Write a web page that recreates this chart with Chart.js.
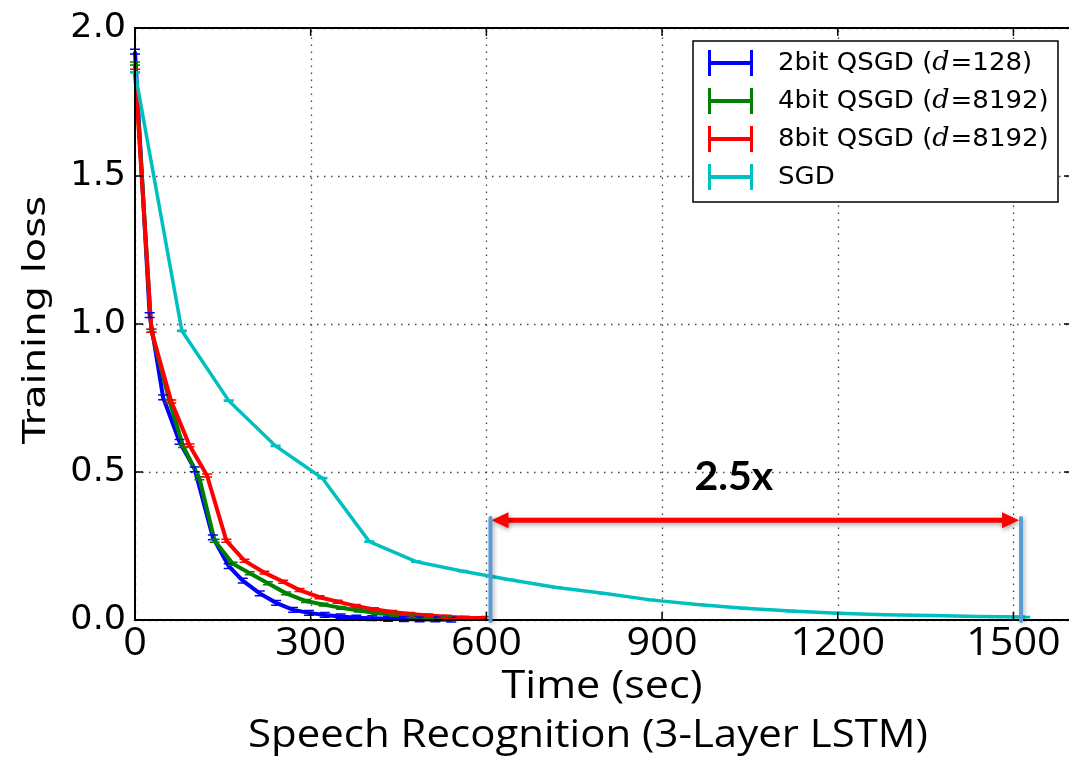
<!DOCTYPE html>
<html><head><meta charset="utf-8">
<script src="https://cdn.jsdelivr.net/npm/chart.js@4.4.0/dist/chart.umd.min.js"></script>
<style>
html,body{margin:0;padding:0;background:#fff;overflow:hidden}
#wrap{width:1069px;height:774px;overflow:hidden;position:relative}
canvas{display:block}
</style></head><body>
<div id="wrap"><canvas id="c" width="1085" height="774"></canvas></div>
<script>
// ---- data ----
const xTicks = [0, 300, 600, 900, 1200, 1500];
const yTicks = [0.0, 0.5, 1.0, 1.5, 2.0];
const seriesNames = ['2bit QSGD', '4bit QSGD', '8bit QSGD', 'SGD'];
const seriesBuckets = ['128', '8192', '8192', null];

const qsgd2Time = [0, 25, 48, 76, 102, 133, 160, 184, 213, 241, 270, 297, 324, 351, 378, 405, 432, 459, 486, 513, 540];
const qsgd2Loss = [1.92, 1.03, 0.752, 0.602, 0.509, 0.279, 0.182, 0.133, 0.090, 0.058, 0.034, 0.024, 0.017, 0.012, 0.008, 0.006, 0.004, 0.003, 0.002, 0.002, 0.001];
const qsgd2Err = 0.008;

const qsgd4Time = [0, 28, 59, 82, 110, 136, 167, 196, 227, 258, 292, 322, 352, 382, 412, 442, 472, 502, 532, 562];
const qsgd4Loss = [1.88, 0.977, 0.738, 0.588, 0.479, 0.268, 0.190, 0.158, 0.124, 0.090, 0.064, 0.052, 0.041, 0.032, 0.024, 0.018, 0.013, 0.009, 0.006, 0.004];
const qsgd4Err = 0.005;

const qsgd8Time = [0, 28, 62, 93, 123, 156, 187, 221, 253, 281, 315, 346, 377, 408, 439, 470, 501, 532, 563, 600];
const qsgd8Loss = [1.856, 0.977, 0.738, 0.590, 0.488, 0.268, 0.200, 0.160, 0.129, 0.101, 0.077, 0.062, 0.047, 0.036, 0.027, 0.020, 0.015, 0.011, 0.008, 0.007];
const qsgd8Err = 0.005;

const sgdTime = [0, 80, 160, 240, 320, 400, 480, 560, 640, 720, 800, 880, 960, 1040, 1120, 1200, 1280, 1360, 1440, 1520];
const sgdLoss = [1.85, 0.977, 0.741, 0.588, 0.479, 0.265, 0.197, 0.165, 0.136, 0.110, 0.090, 0.068, 0.052, 0.040, 0.030, 0.023, 0.018, 0.015, 0.012, 0.010];
const sgdErr = 0.002;

// annotation (data units)
const speedupLabel = '2.5x';
const speedupMarkers = [607, 1513];
const speedupArrowLoss = 0.337;
const speedupMarkerTop = 0.345;

const colors = ['#0000ff', '#008000', '#ff0000', '#00bfbf'];

function pts(t, l) { return t.map((v, i) => ({ x: v, y: l[i] })); }
const allErr = [qsgd2Err, qsgd4Err, qsgd8Err, sgdErr];

const datasets = [
  { label: seriesNames[0], data: pts(qsgd2Time, qsgd2Loss), order: 3 },
  { label: seriesNames[1], data: pts(qsgd4Time, qsgd4Loss), order: 2 },
  { label: seriesNames[2], data: pts(qsgd8Time, qsgd8Loss), order: 1 },
  { label: seriesNames[3], data: pts(sgdTime, sgdLoss), order: 0 }
].map((d, i) => Object.assign(d, {
  borderColor: colors[i], backgroundColor: colors[i], borderWidth: i === 3 ? 3.5 : 4,
  pointRadius: 0, tension: 0, fill: false, clip: 4
}));

function txt(ctx, s, x, y, font, align, opt) {
  ctx.save();
  ctx.font = font;
  const w = ctx.measureText(s).width;
  const k = opt && opt.width ? opt.width / w : (opt && opt.sx) || 1;
  ctx.translate(x, y);
  if (opt && opt.rot) ctx.rotate(opt.rot);
  ctx.scale(k, 1);
  ctx.textAlign = align; ctx.textBaseline = 'middle'; ctx.fillStyle = '#000';
  ctx.fillText(s, 0, 0);
  ctx.restore();
  return w * k;
}

const decor = {
  id: 'decor',
  beforeDatasetsDraw(chart) {
    const { ctx, chartArea: a, scales: { x, y } } = chart;
    ctx.save();
    ctx.strokeStyle = '#444'; ctx.lineWidth = 1.3; ctx.setLineDash([1.5, 5.5]);
    xTicks.forEach(v => { const p = Math.round(x.getPixelForValue(v)) + 0.5;
      ctx.beginPath(); ctx.moveTo(p, a.bottom); ctx.lineTo(p, a.top); ctx.stroke(); });
    yTicks.forEach(v => { const p = Math.round(y.getPixelForValue(v)) + 0.5;
      ctx.beginPath(); ctx.moveTo(a.left, p); ctx.lineTo(a.right, p); ctx.stroke(); });
    ctx.restore();
  },
  afterDatasetsDraw(chart) {
    const { ctx, chartArea: a, scales: { x, y } } = chart;
    ctx.save();
    // error bars
    chart.data.datasets.forEach((ds, i) => {
      ctx.strokeStyle = colors[i]; ctx.lineWidth = 1.5;
      ds.data.forEach(p => {
        const px = x.getPixelForValue(p.x);
        const y1 = y.getPixelForValue(p.y + allErr[i]);
        const y2 = y.getPixelForValue(p.y - allErr[i]);
        ctx.beginPath();
        ctx.moveTo(px, y1); ctx.lineTo(px, y2);
        ctx.moveTo(px - 5, y1); ctx.lineTo(px + 5, y1);
        ctx.moveTo(px - 5, y2); ctx.lineTo(px + 5, y2);
        ctx.stroke();
      });
    });
    // frame
    ctx.strokeStyle = '#000'; ctx.lineWidth = 2;
    ctx.strokeRect(a.left, a.top, a.right - a.left, a.bottom - a.top);
    ctx.lineWidth = 1.5;
    xTicks.forEach(v => { const p = x.getPixelForValue(v);
      ctx.beginPath(); ctx.moveTo(p, a.bottom); ctx.lineTo(p, a.bottom - 8);
      ctx.moveTo(p, a.top); ctx.lineTo(p, a.top + 8); ctx.stroke(); });
    yTicks.forEach(v => { const p = y.getPixelForValue(v);
      ctx.beginPath(); ctx.moveTo(a.left, p); ctx.lineTo(a.left + 8, p);
      ctx.moveTo(a.right, p); ctx.lineTo(a.right - 8, p); ctx.stroke(); });

    // tick labels
    xTicks.forEach(v => txt(ctx, String(v), x.getPixelForValue(v), a.bottom + 24, '39px "Open Sans"', 'center', { sx: 1.06 }));
    yTicks.forEach(v => txt(ctx, v.toFixed(1), a.left - 9, y.getPixelForValue(v), '33px "DejaVu Sans"', 'right', { sx: 1.06 }));

    // annotation
    const xl = x.getPixelForValue(speedupMarkers[0]);
    const xr = x.getPixelForValue(speedupMarkers[1]);
    const yTop = y.getPixelForValue(speedupMarkerTop);
    const yBot = y.getPixelForValue(0);
    const ya = y.getPixelForValue(speedupArrowLoss);
    ctx.save();
    ctx.shadowColor = 'rgba(0,0,0,0.35)'; ctx.shadowBlur = 5; ctx.shadowOffsetX = 1; ctx.shadowOffsetY = 2;
    ctx.strokeStyle = '#ff0000'; ctx.fillStyle = '#ff0000'; ctx.lineWidth = 5;
    ctx.beginPath(); ctx.moveTo(xl + 14, ya); ctx.lineTo(xr - 14, ya); ctx.stroke();
    ctx.beginPath(); ctx.moveTo(xl + 1, ya); ctx.lineTo(xl + 18, ya - 8); ctx.lineTo(xl + 18, ya + 8); ctx.closePath(); ctx.fill();
    ctx.beginPath(); ctx.moveTo(xr - 2, ya); ctx.lineTo(xr - 19, ya - 8); ctx.lineTo(xr - 19, ya + 8); ctx.closePath(); ctx.fill();
    ctx.restore();
    ctx.save();
    ctx.shadowColor = 'rgba(0,0,0,0.25)'; ctx.shadowBlur = 4; ctx.shadowOffsetX = 2; ctx.shadowOffsetY = 1;
    ctx.strokeStyle = '#5b9bd5'; ctx.lineWidth = 4; ctx.lineCap = 'round';
    ctx.beginPath(); ctx.moveTo(xl, yTop); ctx.lineTo(xl, yBot + 1);
    ctx.moveTo(xr, yTop); ctx.lineTo(xr, yBot + 1); ctx.stroke();
    ctx.restore();
    txt(ctx, speedupLabel, (xl + xr) / 2 - 22, y.getPixelForValue(0.483), 'bold 41px Lato', 'center');

    // legend
    const lx = 693, ly = 41, lw = 365, lh = 161;
    ctx.fillStyle = '#fff'; ctx.fillRect(lx, ly, lw, lh);
    ctx.strokeStyle = '#000'; ctx.lineWidth = 1.5; ctx.strokeRect(lx, ly, lw, lh);
    const rowY = [63, 101, 139, 177];
    seriesNames.forEach((n, i) => {
      const cy = rowY[i];
      ctx.strokeStyle = colors[i]; ctx.lineWidth = 4; ctx.lineCap = 'butt';
      ctx.beginPath(); ctx.moveTo(709, cy); ctx.lineTo(752, cy); ctx.stroke();
      ctx.lineWidth = 3;
      ctx.beginPath(); ctx.moveTo(709.5, cy - 13); ctx.lineTo(709.5, cy + 13);
      ctx.moveTo(751.5, cy - 13); ctx.lineTo(751.5, cy + 13); ctx.stroke();
      let tx = 778;
      const sf = 1.04;
      if (seriesBuckets[i]) {
        tx += txt(ctx, n + ' (', tx, cy, '25px "DejaVu Sans"', 'left', { sx: sf });
        tx += txt(ctx, 'd', tx, cy, 'italic 26px "DejaVu Serif"', 'left', { sx: sf }) + 1;
        txt(ctx, '=' + seriesBuckets[i] + ')', tx, cy, '25px "DejaVu Sans"', 'left', { sx: sf });
      } else {
        txt(ctx, n, tx, cy, '25px "DejaVu Sans"', 'left', { sx: sf });
      }
    });

    // axis titles
    txt(ctx, 'Time (sec)', 602, 687, '38px "Open Sans"', 'center', { width: 201 });
    txt(ctx, 'Speech Recognition (3-Layer LSTM)', 588, 736, '39px "Open Sans"', 'center', { width: 680 });
    txt(ctx, 'Training loss', 37, 320, '32px "DejaVu Sans"', 'center', { width: 248, rot: -Math.PI / 2 });
    ctx.restore();
  }
};

new Chart(document.getElementById('c'), {
  type: 'line',
  data: { datasets },
  options: {
    responsive: false, animation: false,
    layout: { padding: { left: 0, top: 28, right: 13, bottom: 0 } },
    plugins: { legend: { display: false }, tooltip: { enabled: false } },
    scales: {
      x: {
        type: 'linear', min: 0, max: 1600,
        afterBuildTicks: s => { s.ticks = xTicks.map(v => ({ value: v })); },
        afterFit: s => { s.height = 154; },
        grid: { display: false, drawTicks: false }, border: { display: false },
        ticks: { display: false }
      },
      y: {
        type: 'linear', min: 0, max: 2,
        afterBuildTicks: s => { s.ticks = yTicks.map(v => ({ value: v })); },
        afterFit: s => { s.width = 135; },
        grid: { display: false, drawTicks: false }, border: { display: false },
        ticks: { display: false }
      }
    }
  },
  plugins: [decor]
});
</script>
</body></html>
